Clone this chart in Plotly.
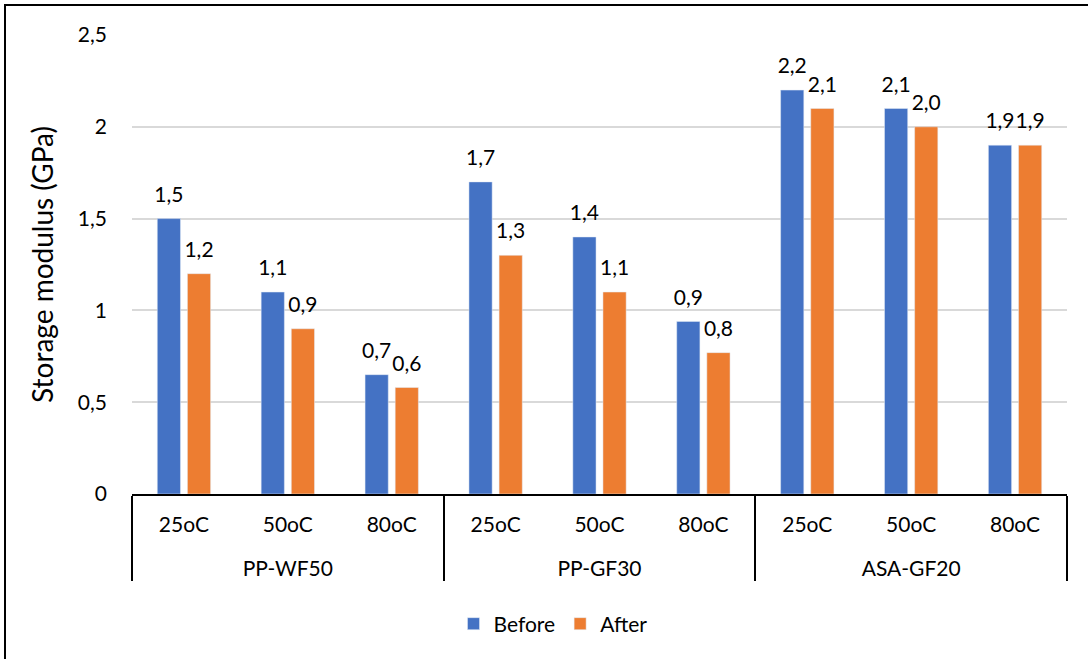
import plotly.graph_objects as go

groups = ["PP-WF50"] * 3 + ["PP-GF30"] * 3 + ["ASA-GF20"] * 3
temps = ["25oC", "50oC", "80oC"] * 3
before = [1.50, 1.10, 0.65, 1.70, 1.40, 0.94, 2.20, 2.10, 1.90]
after = [1.20, 0.90, 0.58, 1.30, 1.10, 0.77, 2.10, 2.00, 1.90]
y_ticks = [0, 0.5, 1, 1.5, 2, 2.5]

FONT = "Lato"
FS = 21
W, H = 1088, 659
L, R, T, B = 132, 21, 35, 165
pw, ph = W - L - R, H - T - B

# push the group level down one line, as in the reference layout
x_cats = [["<br>" + g for g in groups], temps]

fig = go.Figure()
for name, vals, col in [("Before", before, "#4472C4"), ("After", after, "#ED7D31")]:
    fig.add_trace(go.Bar(
        x=x_cats, y=vals, name=name, marker_color=col,
        hoverinfo="skip",
    ))
# value labels (grouped scatter so they sit above each bar)
for name, vals in [("Before", before), ("After", after)]:
    fig.add_trace(go.Scatter(
        x=x_cats, y=vals, name=name + " labels", mode="markers+text",
        marker=dict(size=17, color="rgba(0,0,0,0)"),
        texttemplate="%{y:.1f}", textposition="top center",
        textfont=dict(family=FONT, size=FS, color="#000000"),
        cliponaxis=False, showlegend=False, hoverinfo="skip",
    ))

def px_x(p):
    return (p - L) / pw

def px_y(p):
    return (H - B - p) / ph

fig.update_layout(
    width=W, height=H,
    margin=dict(l=L, r=R, t=T, b=B, autoexpand=False),
    paper_bgcolor="white", plot_bgcolor="white",
    separators=", ",
    barmode="group", bargap=0.42, bargroupgap=0.23,
    scattermode="group", scattergap=0.42,
    font=dict(family=FONT, size=FS, color="#000000"),
    showlegend=True,
    legend=dict(orientation="h", x=553 / W, xanchor="center", xref="container",
                y=1 - 624 / H, yanchor="middle", yref="container",
                font=dict(family=FONT, size=FS, color="#000000"),
                itemwidth=30, tracegroupgap=0),
    xaxis=dict(
        type="multicategory", automargin=False,
        showline=True, linecolor="#000000", linewidth=2,
        showdividers=True, dividercolor="#000000", dividerwidth=2,
        ticks="", showgrid=False, ticklabelstandoff=11,
        tickfont=dict(family=FONT, size=FS, color="#000000"),
    ),
    yaxis=dict(
        range=[0, 2.5], tickvals=y_ticks, automargin=False,
        showgrid=True, gridcolor="#D9D9D9", gridwidth=2,
        zeroline=False, showline=False, ticks="",
        tickfont=dict(family=FONT, size=FS, color="#000000"),
        ticklabelstandoff=24,
        title=dict(text="Storage modulus (GPa)", standoff=16,
                   font=dict(family=FONT, size=28, color="#000000")),
    ),
    shapes=[dict(type="rect", xref="paper", yref="paper",
                 x0=px_x(5), x1=px_x(1100), y0=px_y(680), y1=px_y(5),
                 line=dict(color="#000000", width=2), fillcolor="rgba(0,0,0,0)",
                 layer="below")],
)

fig.write_html("out.html", config={"displayModeBar": False},
               post_script="document.body.style.margin='0px';")
